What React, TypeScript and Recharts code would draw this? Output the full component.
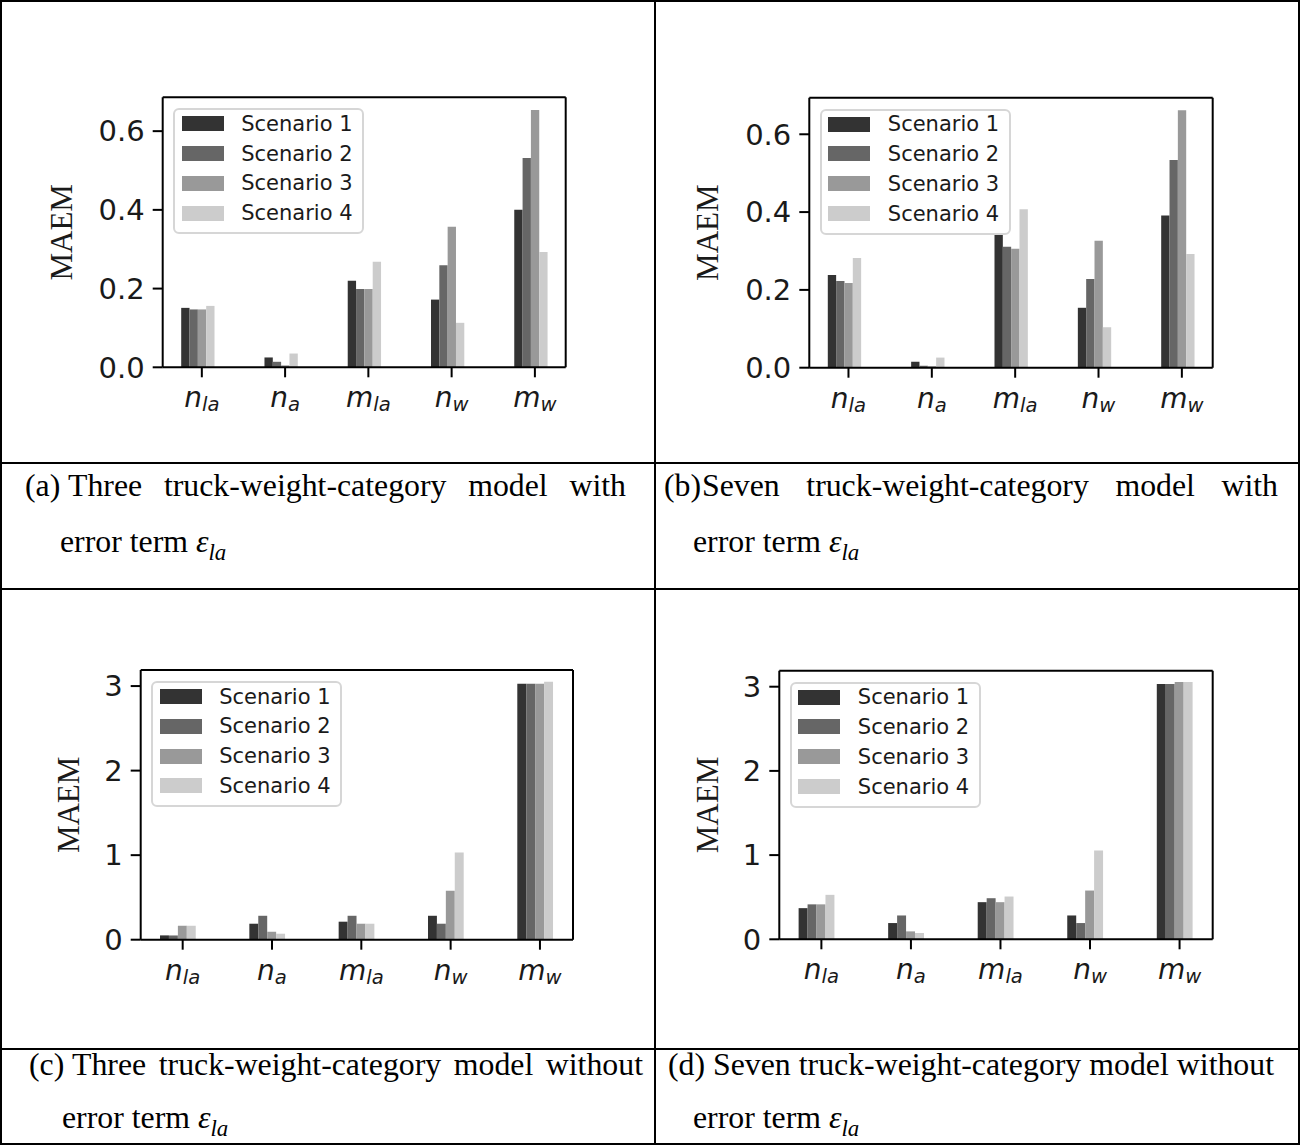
import React from 'react';
import { BarChart, Bar, XAxis, YAxis, Legend } from 'recharts';

// ---------- data ----------
const categories = ['n_la', 'n_a', 'm_la', 'n_w', 'm_w'];
const scenarioNames = ['Scenario 1', 'Scenario 2', 'Scenario 3', 'Scenario 4'];
const scenarioColors = ['#333333', '#666666', '#999999', '#cccccc'];

// (a) Three truck-weight-category model with error term
const aScenario1 = [0.151, 0.025, 0.220, 0.172, 0.400];
const aScenario2 = [0.147, 0.014, 0.199, 0.259, 0.532];
const aScenario3 = [0.147, 0.005, 0.199, 0.357, 0.654];
const aScenario4 = [0.156, 0.035, 0.268, 0.113, 0.293];

// (b) Seven truck-weight-category model with error term
const bScenario1 = [0.238, 0.015, 0.344, 0.154, 0.391];
const bScenario2 = [0.223, 0.005, 0.311, 0.228, 0.534];
const bScenario3 = [0.218, 0.004, 0.306, 0.326, 0.662];
const bScenario4 = [0.282, 0.026, 0.407, 0.104, 0.292];

// (c) Three truck-weight-category model without error term
const cScenario1 = [0.051, 0.189, 0.213, 0.283, 3.028];
const cScenario2 = [0.050, 0.283, 0.283, 0.189, 3.028];
const cScenario3 = [0.165, 0.094, 0.189, 0.579, 3.028];
const cScenario4 = [0.165, 0.071, 0.189, 1.031, 3.051];

// (d) Seven truck-weight-category model without error term
const dScenario1 = [0.370, 0.193, 0.441, 0.283, 3.031];
const dScenario2 = [0.415, 0.283, 0.488, 0.193, 3.031];
const dScenario3 = [0.415, 0.094, 0.441, 0.579, 3.055];
const dScenario4 = [0.528, 0.075, 0.508, 1.055, 3.055];

const yTicksSmall = [0, 0.2, 0.4, 0.6];
const yTicksLarge = [0, 1, 2, 3];

const captionNumbers = ['(a)', '(b)', '(c)', '(d)'];
const captionFirstLines = [
  'Three truck-weight-category model with',
  'Seven truck-weight-category model with',
  'Three truck-weight-category model without',
  'Seven truck-weight-category model without',
];
const captionSecondLine = 'error term';

// ---------- helpers ----------
function buildRows(series: number[][]) {
  return categories.map((cat, i) => {
    const row: Record<string, any> = { cat };
    series.forEach((s, k) => {
      row[`s${k + 1}`] = s[i];
    });
    return row;
  });
}

const W = 640;
const H = 460;
const YW = 120;
const XH = 70;
const TEXT = '#1a1a1a';
const LINE = '#000000';

type Box = { l: number; t: number; r: number; b: number };

const XTick = (props: any) => {
  const { x, y, payload } = props;
  const [main, sub] = String(payload.value).split('_');
  return (
    <text
      x={x}
      y={y + 30}
      textAnchor="middle"
      fontFamily="DejaVu Sans"
      fontStyle="italic"
      fontSize={28}
      fill={TEXT}
    >
      <tspan>{main}</tspan>
      <tspan fontSize={19.6} dy={4}>
        {sub}
      </tspan>
    </text>
  );
};

const renderLegend = (props: any) => {
  const items = (props.payload || []).filter((p: any) => p.type !== 'none');
  return (
    <div
      style={{
        position: 'relative',
        boxSizing: 'border-box',
        width: 191,
        height: 126,
        border: '2px solid #d6d6d6',
        borderRadius: 6,
        background: 'rgba(255,255,255,0.8)',
      }}
    >
      {items.map((it: any, i: number) => (
        <div
          key={it.value}
          style={{
            position: 'absolute',
            left: 6.5,
            top: 13.5 + 29.8 * i - 15,
            height: 30,
            display: 'flex',
            alignItems: 'center',
            whiteSpace: 'nowrap',
          }}
        >
          <div style={{ width: 42, height: 15, background: it.color }} />
          <span
            style={{
              marginLeft: 17.5,
              fontFamily: '"DejaVu Sans"',
              fontSize: 21,
              lineHeight: '22px',
              color: TEXT,
            }}
          >
            {it.value}
          </span>
        </div>
      ))}
    </div>
  );
};

interface PanelProps {
  data: any[];
  cx: number;
  cy: number;
  box: Box;
  yMax: number;
  yTicks: number[];
  decimals: number;
  labelDist: number;
}

function Panel({ data, cx, cy, box, yMax, yTicks, decimals, labelDist }: PanelProps) {
  const plotW = box.r - box.l;
  const band = plotW / 4.84;
  const margin = {
    top: box.t - cy - 1,
    left: box.l - cx - YW,
    right: cx + W - box.r - 1,
    bottom: cy + H - box.b - XH,
  };
  const renderMaem = (p: any) => {
    const vb = p.viewBox || {};
    const x = vb.x + vb.width - labelDist;
    const y = vb.y + vb.height / 2;
    return (
      <text
        x={x}
        y={y}
        transform={`rotate(-90 ${x} ${y})`}
        textAnchor="middle"
        dominantBaseline="central"
        fontFamily='"Liberation Serif"'
        fontSize={31}
        fill={TEXT}
      >
        MAEM
      </text>
    );
  };
  const axisLine = { stroke: LINE, strokeWidth: 2 };
  return (
    <div style={{ position: 'absolute', left: cx, top: cy, width: W, height: H }}>
      <BarChart width={W} height={H} data={data} margin={margin} barGap={0} barSize={band * 0.1}>
        <XAxis
          dataKey="cat"
          type="category"
          height={XH}
          padding={{ left: -0.03 * band, right: -0.13 * band }}
          tick={(p: any) => <XTick {...p} />}
          tickSize={10}
          tickMargin={0}
          tickLine={axisLine}
          axisLine={axisLine}
          interval={0}
        />
        <XAxis
          xAxisId="top"
          dataKey="cat"
          orientation="top"
          height={1}
          tick={false}
          tickLine={false}
          axisLine={axisLine}
        />
        <YAxis
          width={YW}
          domain={[0, yMax]}
          ticks={yTicks}
          interval={0}
          tickFormatter={(v: number) => v.toFixed(decimals)}
          tickSize={10}
          tickMargin={8}
          tick={{ fontSize: 29, fontFamily: 'DejaVu Sans', fill: TEXT }}
          tickLine={axisLine}
          axisLine={axisLine}
          label={renderMaem}
        />
        <YAxis
          yAxisId="right"
          orientation="right"
          width={1}
          domain={[0, yMax]}
          ticks={yTicks}
          tick={false}
          tickLine={false}
          axisLine={axisLine}
        />
        {scenarioNames.map((n, i) => (
          <Bar
            key={n}
            dataKey={`s${i + 1}`}
            name={n}
            fill={scenarioColors[i]}
            isAnimationActive={false}
          />
        ))}
        <Bar dataKey="slot" legendType="none" fill="none" isAnimationActive={false} />
        <Legend
          layout="vertical"
          align="center"
          verticalAlign="middle"
          width={191}
          height={126}
          wrapperStyle={{ left: box.l - cx + 10.5, top: box.t - cy + 11, width: 191, height: 126 }}
          content={renderLegend}
        />
      </BarChart>
    </div>
  );
}

const CAP = 31.8;
const capFont = '"Liberation Serif", "Times New Roman", serif';

function Caption({
  idx,
  numX,
  textX,
  textEnd,
  line2X,
  base1,
  base2,
}: {
  idx: number;
  numX: number;
  textX: number;
  textEnd: number;
  line2X: number;
  base1: number;
  base2: number;
}) {
  const common: React.CSSProperties = {
    position: 'absolute',
    fontFamily: capFont,
    fontSize: CAP,
    lineHeight: `${CAP}px`,
    color: '#000',
    whiteSpace: 'nowrap',
  };
  const asc = 0.8375 * CAP;
  return (
    <>
      <div style={{ ...common, left: numX, top: base1 - asc }}>{captionNumbers[idx]}</div>
      <div
        style={{
          ...common,
          left: textX,
          top: base1 - asc,
          width: textEnd - textX,
          whiteSpace: 'normal',
          textAlign: 'justify',
          textAlignLast: 'justify' as any,
        }}
      >
        {captionFirstLines[idx]}
      </div>
      <div style={{ ...common, left: line2X, top: base2 - asc }}>
        {captionSecondLine}{' '}
        <span style={{ fontStyle: 'italic' }}>ε</span>
        <span style={{ fontStyle: 'italic', fontSize: '0.72em', position: 'relative', top: '0.32em' }}>la</span>
      </div>
    </>
  );
}

const hLine = (y: number, t = 2): React.CSSProperties => ({
  position: 'absolute',
  left: 0,
  top: y,
  width: 1300,
  height: t,
  background: '#000',
});
const vLine = (x: number, t = 2): React.CSSProperties => ({
  position: 'absolute',
  left: x,
  top: 0,
  width: t,
  height: 1145,
  background: '#000',
});

export default function App() {
  const dataA = buildRows([aScenario1, aScenario2, aScenario3, aScenario4]);
  const dataB = buildRows([bScenario1, bScenario2, bScenario3, bScenario4]);
  const dataC = buildRows([cScenario1, cScenario2, cScenario3, cScenario4]);
  const dataD = buildRows([dScenario1, dScenario2, dScenario3, dScenario4]);
  return (
    <div
      style={{
        position: 'absolute',
        left: 0,
        top: 0,
        width: 1301,
        height: 1146,
        background: '#fff',
        overflow: 'hidden',
      }}
    >
      <Panel data={dataA} cx={0} cy={0} box={{ l: 162.7, t: 97.3, r: 565.7, b: 367.3 }} yMax={0.686} yTicks={yTicksSmall} decimals={1} labelDist={101} />
      <Panel data={dataB} cx={656} cy={0} box={{ l: 809.3, t: 97.7, r: 1212.7, b: 367.7 }} yMax={0.694} yTicks={yTicksSmall} decimals={1} labelDist={101.8} />
      <Panel data={dataC} cx={0} cy={590} box={{ l: 140.7, t: 670, r: 573, b: 939.7 }} yMax={3.19} yTicks={yTicksLarge} decimals={0} labelDist={71.8} />
      <Panel data={dataD} cx={656} cy={590} box={{ l: 779.3, t: 670.7, r: 1212.7, b: 939.3 }} yMax={3.19} yTicks={yTicksLarge} decimals={0} labelDist={71.8} />

      <Caption idx={0} numX={25} textX={68} textEnd={626} line2X={60} base1={497} base2={553} />
      <Caption idx={1} numX={664} textX={702} textEnd={1278} line2X={693} base1={497} base2={553} />
      <Caption idx={2} numX={29} textX={72} textEnd={643} line2X={62} base1={1076} base2={1129} />
      <Caption idx={3} numX={668} textX={713} textEnd={1274} line2X={693} base1={1076} base2={1129} />

      <div style={hLine(0)} />
      <div style={hLine(462)} />
      <div style={hLine(588)} />
      <div style={hLine(1048)} />
      <div style={hLine(1143)} />
      <div style={vLine(0)} />
      <div style={vLine(654)} />
      <div style={vLine(1298)} />
    </div>
  );
}
